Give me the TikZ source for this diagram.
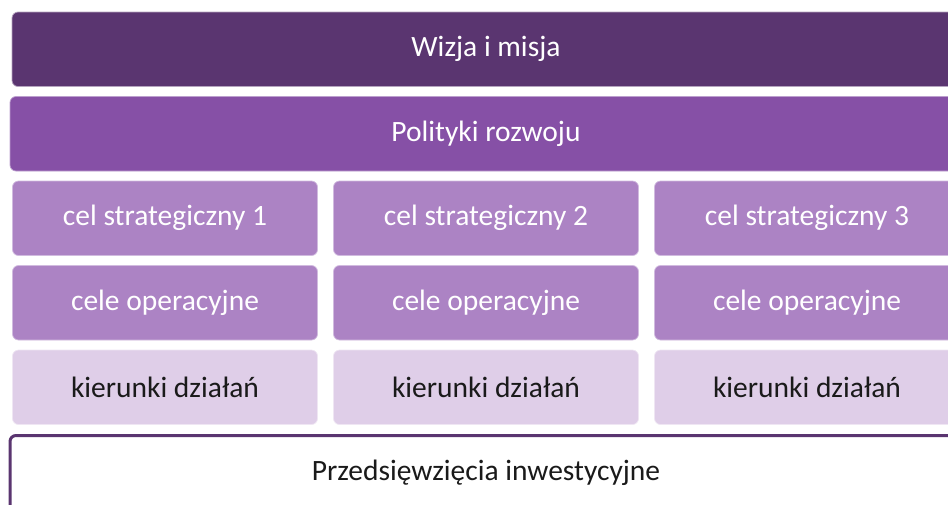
\documentclass[tikz,border=0pt]{standalone}
\usepackage{fontspec}
\setmainfont{Carlito}
\usepackage{tikz}
\usetikzlibrary{positioning}
\definecolor{plndark}{HTML}{5A3570}
\definecolor{plnmid}{HTML}{8650A6}
\definecolor{plnsoft}{HTML}{AC83C4}
\definecolor{plnpale}{HTML}{DFCEE8}
\definecolor{plntext}{HTML}{1A1A1A}

\begin{document}
\begin{tikzpicture}[
   x=1pt, y=-1pt,
   node distance=10pt and 16pt,
   bar/.style={rounded corners=6pt, minimum height=74.5pt, outer sep=0pt,
               inner sep=0pt, line width=0.7pt, text=white,
               font=\fontsize{29.5}{35}\selectfont},
   cell/.style={bar, minimum width=305pt, fill=plnsoft, draw=plnsoft!55!white},
   pale/.style={cell, fill=plnpale, draw=plnpale!50!white, text=plntext},
   base/.style={bar, minimum width=952pt, fill=white, draw=plndark,
                line width=3pt, text=plntext}]
  \useasboundingbox (0,0) rectangle (948,504);
  \clip (0,0) rectangle (948,504);
  \node[bar, fill=plndark, draw=plndark!45!white, minimum width=948pt] (vision) at (486,49.25) {Wizja i misja};
  \node[bar, fill=plnmid, draw=plnmid!55!white, minimum width=952pt, below=of vision] (policy) {Polityki rozwoju};
  % strategic goals
  \node[cell, below=of policy] (goal2) {cel strategiczny 2};
  \node[cell, left=of goal2] (goal1) {cel strategiczny 1};
  \node[cell, right=of goal2] (goal3) {cel strategiczny 3};
  % operational goals
  \node[cell, below=of goal1] (oper1) {cele operacyjne};
  \node[cell, below=of goal2] (oper2) {cele operacyjne};
  \node[cell, below=of goal3] (oper3) {cele operacyjne};
  % directions of action
  \node[pale, below=of oper1] (dir1) {kierunki działań};
  \node[pale, below=of oper2] (dir2) {kierunki działań};
  \node[pale, below=of oper3] (dir3) {kierunki działań};
  \node[base, below=11pt of dir2] (invest) {Przedsięwzięcia inwestycyjne};
\end{tikzpicture}
\end{document}
